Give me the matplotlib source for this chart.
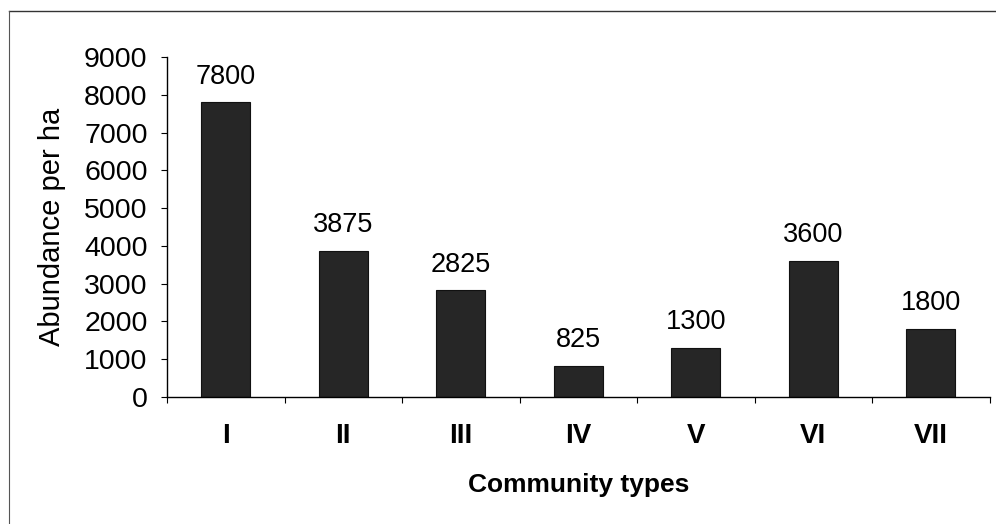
import matplotlib
matplotlib.use("Agg")
import matplotlib.pyplot as plt
from matplotlib.lines import Line2D
import numpy as np

categories = ["I", "II", "III", "IV", "V", "VI", "VII"]
values = [7800, 3875, 2825, 825, 1300, 3600, 1800]
yticks = [0, 1000, 2000, 3000, 4000, 5000, 6000, 7000, 8000, 9000]

plt.rcParams['font.family'] = ['Liberation Sans', 'DejaVu Sans']

fig = plt.figure(figsize=(9.96, 5.24), dpi=100)
ax = fig.add_axes([167/996, 1-397/524, (989.5-167)/996, (397-57)/524])

x = np.arange(len(categories))
ax.bar(x, values, width=0.42, color='#262626', edgecolor='#111111', linewidth=0.8)
for xi, v in zip(x, values):
    ax.annotate(f"{v}", (xi, v), xytext=(0, 9), textcoords='offset points',
                ha='center', va='bottom', fontsize=19.5)

ax.set_xlim(-0.5, len(categories) - 0.5)
ax.set_ylim(0, 9000)
ax.set_yticks(yticks)
ax.set_yticklabels([str(t) for t in yticks], fontsize=20.5)
ax.set_xticks(np.arange(-0.5, len(categories)), labels=[""] * (len(categories) + 1))
ax.set_xticks(x, minor=True)
ax.set_xticklabels(categories, minor=True, fontsize=20, fontweight='bold')
ax.tick_params(axis='x', which='minor', length=0, pad=19)
ax.tick_params(axis='x', which='major', length=4, direction='out')
ax.tick_params(axis='y', length=4, direction='out', pad=10)
for s in ['top', 'right']:
    ax.spines[s].set_visible(False)
ax.spines['left'].set_linewidth(1.0)
ax.spines['bottom'].set_linewidth(1.0)

ax.set_ylabel("Abundance per ha", fontsize=21, labelpad=13)
ax.set_xlabel("Community types", fontsize=19, fontweight='bold', labelpad=17)

# outer chart border (top and left)
fig.add_artist(Line2D([9/996, 1.0], [1-11/524, 1-11/524], transform=fig.transFigure, color='#333333', lw=1.0))
fig.add_artist(Line2D([9/996, 9/996], [0, 1-11/524], transform=fig.transFigure, color='#555555', lw=0.8))

fig.savefig("out.png", dpi=100)
